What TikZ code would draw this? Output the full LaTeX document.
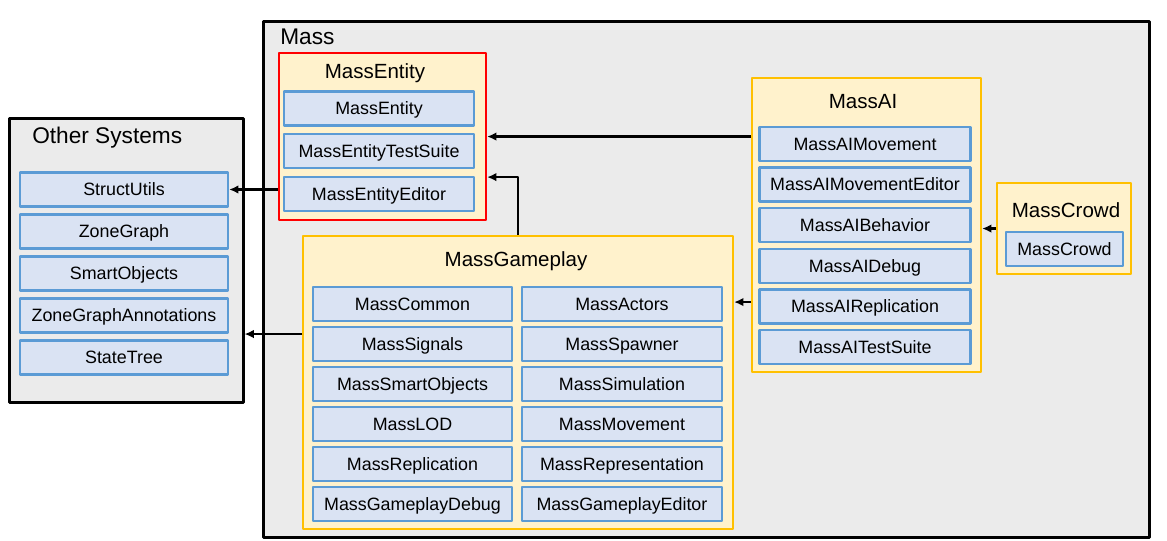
\documentclass[tikz,border=0pt]{standalone}
\usepackage{fontspec}
\setmainfont{Liberation Sans}
\usetikzlibrary{arrows.meta}
\definecolor{massgray}{HTML}{EBEBEB}
\definecolor{grpfill}{HTML}{FFF2CC}
\definecolor{grpline}{HTML}{FFC000}
\definecolor{itemfill}{HTML}{DAE3F3}
\definecolor{itemline}{HTML}{5B9BD5}

\begin{document}
\begin{tikzpicture}[x=0.75pt, y=-0.75pt, line join = round,
    box/.style={draw, fill=massgray, line width=1.9pt, anchor=north west, inner sep=0pt},
    grp/.style={draw=grpline, fill=grpfill, line width=1.6pt, anchor=north west, inner sep=0pt},
    item/.style={draw=itemline, fill=itemfill, line width=1.7pt, minimum height=25.5pt, inner sep=0pt,
        text height=9.6pt, text depth=0pt, font=\fontsize{13.4}{16}\selectfont},
    boxtitle/.style={inner sep=0pt, font=\fontsize{17}{20}\selectfont},
    grptitle/.style={inner sep=0pt, font=\fontsize{15.4}{18}\selectfont},
    arr/.style={-{Latex[length=7pt, width=6.5pt]}, line width=1.8pt}]
    \useasboundingbox (0,0) rectangle (1167,541);

    % outer boxes
    \node[box, minimum width=664.5pt, minimum height=387pt] (mass) at (262,20) {};
    \node[boxtitle, anchor=west] (masstitle) at (280,37) {Mass};
    \node[box, minimum width=175.5pt, minimum height=213pt] (other) at (8,117) {};
    \node[boxtitle, anchor=west] (othertitle) at (32,138) {Other Systems};

    % groups
    \node[grp, draw=red, minimum width=155.25pt, minimum height=125.25pt] (entity) at (278,52) {};
    \node[grptitle] (entitytitle) at (375,73) {MassEntity};
    \node[grp, minimum width=171.75pt, minimum height=220.5pt] (ai) at (751,77) {};
    \node[grptitle] (aititle) at (863,102) {MassAI};
    \node[grp, minimum width=100.5pt, minimum height=68.25pt] (crowd) at (996,182) {};
    \node[grptitle] (crowdtitle) at (1066,210) {MassCrowd};
    \node[grp, minimum width=322.5pt, minimum height=219.75pt] (gameplay) at (302,235) {};
    \node[grptitle] (gameplaytitle) at (516,261) {MassGameplay};

    % modules
    \foreach \name [count=\i] in {StructUtils, ZoneGraph, SmartObjects, ZoneGraphAnnotations, StateTree}
        \node[item, minimum width=156pt] (os\i) at (124, {189.5+42*(\i-1)}) {\name};
    \foreach \name [count=\i] in {MassEntity, MassEntityTestSuite, MassEntityEditor}
        \node[item, minimum width=142.5pt] (me\i) at (379, {108.5+42.75*(\i-1)}) {\name};
    \foreach \name [count=\i] in {MassAIMovement, MassAIMovementEditor, MassAIBehavior, MassAIDebug, MassAIReplication, MassAITestSuite}
        \node[item, minimum width=158.25pt] (ma\i) at (865, {144+40.6*(\i-1)}) {\name};
    \foreach \name [count=\i] in {MassCommon, MassSignals, MassSmartObjects, MassLOD, MassReplication, MassGameplayDebug}
        \node[item, minimum width=149.25pt] (gl\i) at (412.5, {304+40*(\i-1)}) {\name};
    \foreach \name [count=\i] in {MassActors, MassSpawner, MassSimulation, MassMovement, MassRepresentation, MassGameplayEditor}
        \node[item, minimum width=150pt] (gr\i) at (622, {304+40*(\i-1)}) {\name};
    \node[item, minimum width=87.75pt] (mc1) at (1064.5,249) {MassCrowd};

    % dependencies
    \coordinate (gpout) at ([yshift=36.4pt]gameplay.west);
    \coordinate (aiout) at ([yshift=-57.75pt]ai.west);
    \draw[arr] (ai.west |- entity.east) -- (entity.east);
    \draw[arr] (gameplay.north) |- ([yshift=-30.4pt]entity.east);
    \draw[arr] (entity.west |- os1.east) -- (os1.east);
    \draw[arr] (gpout) -- (gpout -| other.east);
    \draw[arr] (aiout) -- (aiout -| gameplay.east);
    \draw[arr] (crowd.west) -- (crowd.west -| ai.east);
\end{tikzpicture}
\end{document}
